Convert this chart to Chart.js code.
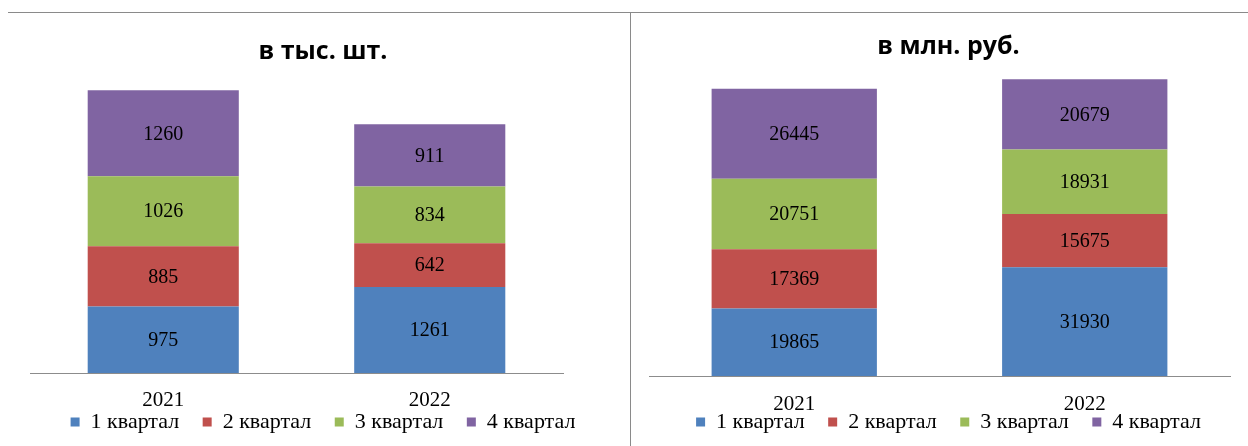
<!DOCTYPE html>
<html>
<head>
<meta charset="utf-8">
<script src="https://cdn.jsdelivr.net/npm/chart.js@4.4.1/dist/chart.umd.min.js"></script>
<style>
  body { margin: 0; background: #fff; width: 1248px; height: 446px; overflow: hidden; position: relative; }
  #box1 { position: absolute; left: 8px; top: 12px; width: 622px; height: 434px; border-top: 1px solid #8a8a8a; }
  #box2 { position: absolute; left: 630px; top: 12px; width: 617px; height: 434px; border-top: 1px solid #8a8a8a; border-left: 1px solid #8a8a8a; }
  canvas { display: block; }
</style>
</head>
<body>
<div id="box1"><canvas id="c1" width="622" height="433"></canvas></div>
<div id="box2"><canvas id="c2" width="617" height="433"></canvas></div>
<script>
const years = ["2021", "2022"];
const quarters = ["1 квартал", "2 квартал", "3 квартал", "4 квартал"];
const colors = ["#4F81BD", "#C0504D", "#9BBB59", "#8064A2"];

// в тыс. шт.
const pcsQ1 = [975, 1261];
const pcsQ2 = [885, 642];
const pcsQ3 = [1026, 834];
const pcsQ4 = [1260, 911];

// в млн. руб.
const rubQ1 = [19865, 31930];
const rubQ2 = [17369, 15675];
const rubQ3 = [20751, 18931];
const rubQ4 = [26445, 20679];

const serif = "'Liberation Serif', 'Times New Roman', serif";
const legendPad = 23.5;
const legendSize = 22;

const valueLabels = {
    id: "valueLabels",
    afterDatasetsDraw(chart){
        const ctx = chart.ctx;
        ctx.save();
        ctx.font = "20px " + serif;
        ctx.fillStyle = "#000";
        ctx.textAlign = "center";
        ctx.textBaseline = "middle";
        chart.data.datasets.forEach(function(ds, i){
            chart.getDatasetMeta(i).data.forEach(function(bar, j){
                ctx.fillText(String(ds.data[j]), bar.x, (bar.y + bar.base) / 2 + 1);
            });
        });
        ctx.restore();
    }
};

// pull the legend row up close under the year labels
const legendShift = {
    id: "legendShift",
    afterLayout(chart, args, opts){
        const lg = chart.legend;
        if (!lg) return;
        lg.top = opts.center - legendSize / 2 - legendPad;
        lg.bottom = chart.height;
        lg.height = lg.bottom - lg.top;
    }
};

// o = { title, series, yMax, padLeft, leftW, rightW, titleTop, tickPad, legendH, legendY, barPct }
function makeChart(id, o){
    const hidden = { grid: { display: false }, border: { display: false }, ticks: { display: false } };
    return new Chart(document.getElementById(id).getContext("2d"), {
        type: "bar",
        data: {
            labels: years,
            datasets: o.series.map(function(s, i){
                return { label: quarters[i], data: s, backgroundColor: colors[i], borderWidth: 0,
                         barPercentage: o.barPct, categoryPercentage: 1 };
            })
        },
        options: {
            responsive: false,
            animation: false,
            layout: { padding: { left: o.padLeft, right: 0, top: 0, bottom: 0 } },
            plugins: {
                title: {
                    display: true, text: o.title, color: "#000",
                    font: { family: "'Open Sans', sans-serif", size: 25, weight: "bold" },
                    padding: { top: o.titleTop, bottom: 6 }
                },
                legend: {
                    position: "bottom",
                    maxHeight: o.legendH,
                    labels: { color: "#000", boxWidth: 9, boxHeight: 9, padding: legendPad,
                              font: { family: serif, size: legendSize } }
                },
                legendShift: { center: o.legendY },
                tooltip: { enabled: false }
            },
            scales: {
                x: {
                    stacked: true,
                    grid: { display: false, drawTicks: false },
                    border: { display: true, color: "#8c8c8c", width: 1 },
                    ticks: { color: "#000", padding: o.tickPad, font: { family: serif, size: 21 } },
                    afterFit: function(s){ s.height = 40; }
                },
                y: Object.assign({ stacked: true, min: 0, max: o.yMax, position: "left",
                                   afterFit: function(s){ s.width = o.leftW; } }, hidden),
                yR: Object.assign({ position: "right",
                                    afterFit: function(s){ s.width = o.rightW; } }, hidden)
            }
        },
        plugins: [valueLabels, legendShift]
    });
}

makeChart("c1", { title: "в тыс. шт.", series: [pcsQ1, pcsQ2, pcsQ3, pcsQ4], yMax: 4400,
                  padLeft: 8, leftW: 14, rightW: 67, titleTop: 24, tickPad: 15, legendH: 33, legendY: 409, barPct: 0.567 });
makeChart("c2", { title: "в млн. руб.", series: [rubQ1, rubQ2, rubQ3, rubQ4], yMax: 90500,
                  padLeft: 18, leftW: 0, rightW: 18, titleTop: 19, tickPad: 16, legendH: 30, legendY: 409, barPct: 0.569 });
</script>
</body>
</html>
